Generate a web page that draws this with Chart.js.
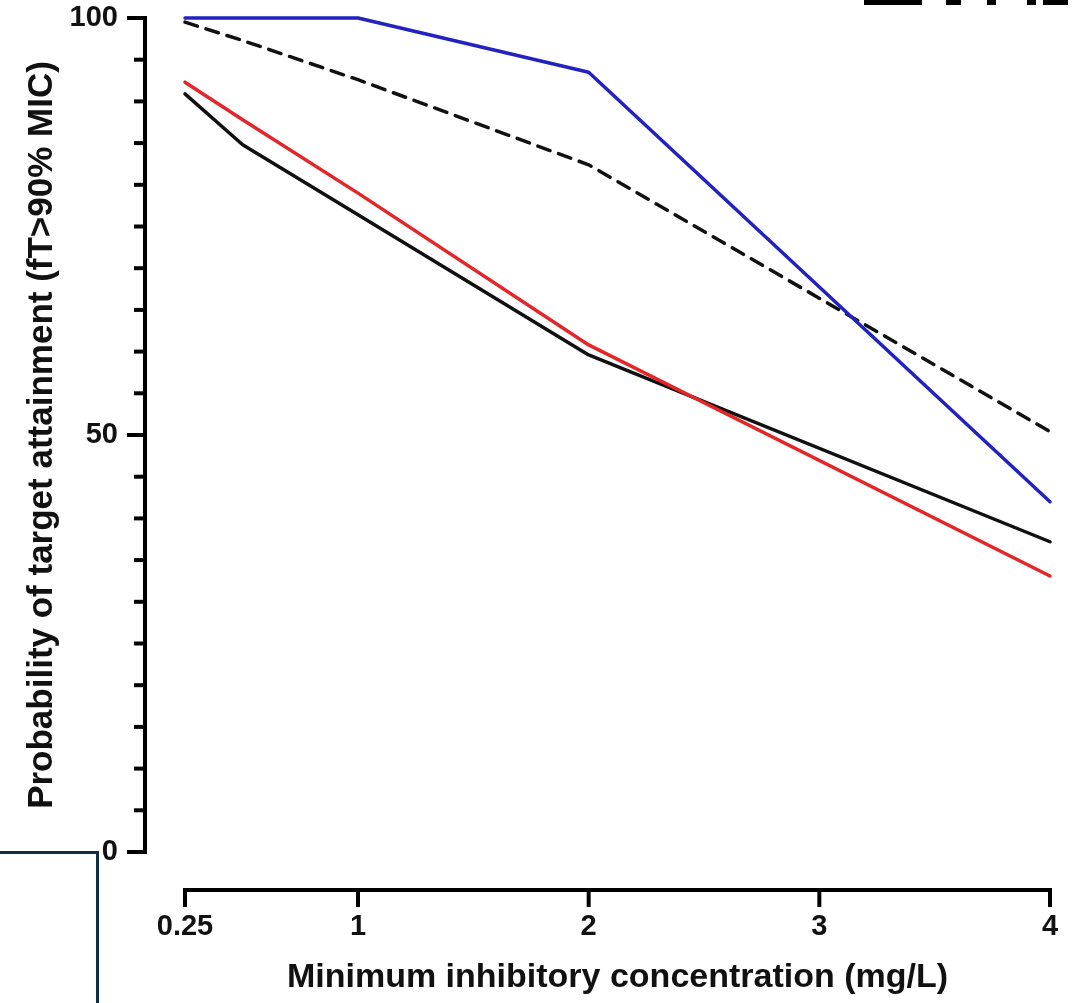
<!DOCTYPE html>
<html>
<head>
<meta charset="utf-8">
<script src="https://cdn.jsdelivr.net/npm/chart.js@4.4.1/dist/chart.umd.min.js"></script>
<style>
    html, body { margin: 0; padding: 0; background: #fff; overflow: hidden; }
    #wrap { position: relative; width: 1079px; height: 1003px; }
    .frag { position: absolute; top: 0; height: 5px; background: #000; }
    #box { position: absolute; left: -3px; top: 851px; width: 96px; height: 200px; border: 3px solid #102f44; }
</style>
</head>
<body>
<div id="wrap">
    <canvas id="chart" width="1079" height="1003"></canvas>
    <!-- bouts de texte coupés en haut à droite -->
    <div class="frag" style="left:864px;width:58px"></div>
    <div class="frag" style="left:946px;width:15px"></div>
    <div class="frag" style="left:987px;width:9px"></div>
    <div class="frag" style="left:1027px;width:9px"></div>
    <div class="frag" style="left:1043px;width:25px"></div>
    <div id="box"></div>
</div>
<script>
// Valeurs
const micValues = [0.25, 0.5, 1, 2, 4];
const blueSeries = [100, 100, 100, 93.5, 42];
const redSeries = [92.3, 87.8, 79, 60.8, 33.1];
const blackSeries = [90.9, 84.8, 76.4, 59.6, 37.2];
const dashedSeries = [99.5, 97.3, 92.6, 82.4, 50.4];

const xTicks = [0.25, 1, 2, 3, 4];
const yLabelTicks = [0, 50, 100];
const yMinorStep = 5;

const xTitle = 'Minimum inhibitory concentration (mg/L)';
const yTitle = 'Probability of target attainment (fT>90% MIC)';

const FONT = "'Liberation Sans', Arial, sans-serif";

function toPoints(values) {
    return micValues.map((x, i) => ({ x: x, y: values[i] }));
}

// pas de marge automatique due aux étiquettes
function noLabelPadding(scale) {
    scale.paddingLeft = 0;
    scale.paddingRight = 0;
    scale.paddingTop = 0;
    scale.paddingBottom = 0;
}

// Axes décalées façon Prism : trait d'axe + graduations dessinés à la main
const offsetAxes = {
    id: 'offsetAxes',
    afterDraw(chart) {
        const ctx = chart.ctx;
        const xs = chart.scales.x;
        const ys = chart.scales.y;
        const yAxisX = chart.chartArea.left - 40;
        const xAxisY = chart.chartArea.bottom + 38;

        ctx.save();
        ctx.strokeStyle = '#000';
        ctx.lineWidth = 4;
        ctx.lineCap = 'butt';

        // axe Y
        ctx.beginPath();
        ctx.moveTo(yAxisX, ys.getPixelForValue(100) - 2);
        ctx.lineTo(yAxisX, ys.getPixelForValue(0) + 2);
        ctx.stroke();
        for (let v = 0; v <= 100; v += yMinorStep) {
            const py = ys.getPixelForValue(v);
            const len = yLabelTicks.includes(v) ? 18 : 11;
            ctx.beginPath();
            ctx.moveTo(yAxisX - len, py);
            ctx.lineTo(yAxisX + 2, py);
            ctx.stroke();
        }

        // axe X
        ctx.beginPath();
        ctx.moveTo(xs.getPixelForValue(xTicks[0]) - 2, xAxisY);
        ctx.lineTo(xs.getPixelForValue(xTicks[xTicks.length - 1]) + 2, xAxisY);
        ctx.stroke();
        xTicks.forEach(v => {
            const px = xs.getPixelForValue(v);
            ctx.beginPath();
            ctx.moveTo(px, xAxisY - 2);
            ctx.lineTo(px, xAxisY + 17);
            ctx.stroke();
        });
        ctx.restore();
    }
};

const ctx = document.getElementById('chart').getContext('2d');

new Chart(ctx, {
    type: 'line',
    data: {
        datasets: [
            {
                label: 'bleu',
                data: toPoints(blueSeries),
                borderColor: '#2222c0',
                borderWidth: 3.5,
                clip: false
            },
            {
                label: 'pointillé',
                data: toPoints(dashedSeries),
                borderColor: '#111111',
                borderWidth: 3.5,
                borderDash: [13, 9],
                clip: false
            },
            {
                label: 'rouge',
                data: toPoints(redSeries),
                borderColor: '#e3262a',
                borderWidth: 3.5,
                clip: false
            },
            {
                label: 'noir',
                data: toPoints(blackSeries),
                borderColor: '#111111',
                borderWidth: 3.5,
                clip: false
            }
        ]
    },
    options: {
        responsive: false,
        animation: false,
        events: [],
        elements: {
            point: { radius: 0 },
            line: { tension: 0, borderJoinStyle: 'round', borderCapStyle: 'round' }
        },
        layout: {
            padding: { left: 17, top: 18, right: 29, bottom: 1 }
        },
        plugins: {
            legend: { display: false },
            tooltip: { enabled: false }
        },
        scales: {
            x: {
                type: 'linear',
                min: 0.25,
                max: 4,
                afterBuildTicks: scale => {
                    scale.ticks = xTicks.map(v => ({ value: v }));
                },
                afterFit: scale => {
                    scale.height = 1003 - 852 - 1;
                    noLabelPadding(scale);
                },
                grid: { display: false, drawTicks: false },
                border: { display: false },
                ticks: {
                    padding: 58,
                    color: '#111',
                    font: { family: FONT, size: 29, weight: 'bold' },
                    maxRotation: 0,
                    autoSkip: false,
                    callback: v => String(v)
                },
                title: {
                    display: true,
                    text: xTitle,
                    color: '#111',
                    font: { family: FONT, size: 34, weight: 'bold' }
                }
            },
            y: {
                min: 0,
                max: 100,
                afterBuildTicks: scale => {
                    scale.ticks = yLabelTicks.map(v => ({ value: v }));
                },
                afterFit: scale => {
                    scale.width = 185 - 17;
                    noLabelPadding(scale);
                },
                grid: { display: false, drawTicks: false },
                border: { display: false },
                ticks: {
                    padding: 67,
                    color: '#111',
                    font: { family: FONT, size: 29, weight: 'bold' }
                },
                title: {
                    display: true,
                    text: yTitle,
                    color: '#111',
                    font: { family: FONT, size: 35, weight: 'bold' }
                }
            }
        }
    },
    plugins: [offsetAxes]
});
</script>
</body>
</html>
